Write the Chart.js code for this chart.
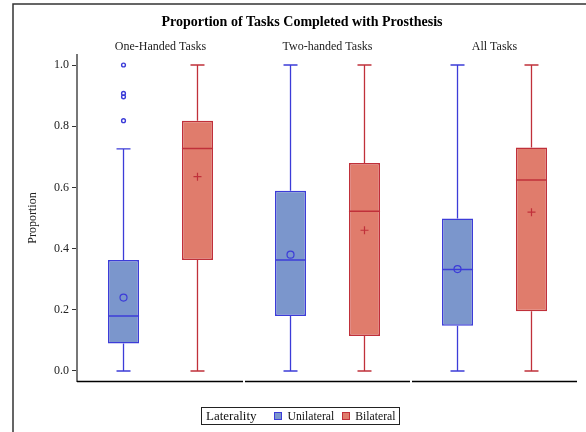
<!DOCTYPE html>
<html>
<head>
<meta charset="utf-8">
<script src="https://cdn.jsdelivr.net/npm/chart.js@4.4.1/dist/chart.umd.min.js"></script>
<style>
  html, body { margin: 0; padding: 0; background: #fff; overflow: hidden; }
  #wrap { position: relative; width: 586px; height: 432px; }
  #legend {
    position: absolute; left: 201px; top: 407px; width: 197px; height: 16px;
    border: 1px solid #222; font-family: "Liberation Serif", "Times New Roman", serif;
    color: #111; display: flex; align-items: center; box-sizing: content-box;
    white-space: nowrap;
  }
  #legend .title { font-size: 13px; margin-left: 4px; }
  #legend .sw { width: 6px; height: 6px; border: 1px solid; margin-left: 17px; }
  #legend .lbl { font-size: 11.7px; margin-left: 6px; }
</style>
</head>
<body>
<div id="wrap">
  <canvas id="boxChart" width="586" height="432"></canvas>
  <div id="legend">
    <span class="title">Laterality</span>
    <span class="sw" style="background:#7b96cc;border-color:#3c3cd8"></span>
    <span class="lbl">Unilateral</span>
    <span class="sw" style="background:#e07c6c;border-color:#c0303a;margin-left:8px"></span>
    <span class="lbl" style="margin-left:5px">Bilateral</span>
  </div>
</div>
<script>
// data
const panels = ["One-Handed Tasks", "Two-handed Tasks", "All Tasks"];

const uniMin = [0, 0, 0];
const uniQ1 = [0.09, 0.18, 0.148];
const uniMed = [0.18, 0.363, 0.332];
const uniQ3 = [0.363, 0.589, 0.498];
const uniMax = [0.726, 1.0, 1.0];
const uniMean = [0.24, 0.38, 0.333];
const uniOutliers = [[0.818, 0.896, 0.907, 1.0], [], []];

const biMin = [0, 0, 0];
const biQ1 = [0.363, 0.114, 0.195];
const biMed = [0.727, 0.522, 0.624];
const biQ3 = [0.818, 0.68, 0.73];
const biMax = [1.0, 1.0, 1.0];
const biMean = [0.635, 0.46, 0.519];
const biOutliers = [[], [], []];

const yTicks = [0.0, 0.2, 0.4, 0.6, 0.8, 1.0];

const serif = "'Liberation Serif', 'Times New Roman', serif";
Chart.defaults.font.family = serif;
Chart.defaults.color = "#222";

const uniColor = { fill: "#7b96cc", line: "#3c3cd8", mark: "crc" };
const biColor = { fill: "#e07c6c", line: "#c0303a", mark: "plus" };

const stats = [
    { min: uniMin, q1: uniQ1, med: uniMed, q3: uniQ3, max: uniMax, mean: uniMean, out: uniOutliers, c: uniColor },
    { min: biMin, q1: biQ1, med: biMed, q3: biQ3, max: biMax, mean: biMean, out: biOutliers, c: biColor }
];

// frame round the whole graph
const framePlugin = {
    id: "frame",
    beforeDraw(chart) {
        const ctx = chart.ctx;
        ctx.save();
        ctx.fillStyle = "#fff";
        ctx.fillRect(0, 0, chart.width, chart.height);
        ctx.strokeStyle = "#333";
        ctx.lineWidth = 1.5;
        ctx.strokeRect(13, 4, 700, 700);
        ctx.restore();
    }
};

// whiskers, medians, means and outliers on top of the bars
const boxPlugin = {
    id: "boxExtras",
    afterDatasetsDraw(chart) {
        const ctx = chart.ctx;
        const y = chart.scales.y;
        stats.forEach((s, d) => {
            const meta = chart.getDatasetMeta(d);
            meta.data.forEach((bar, i) => {
                const cx = bar.x;
                const w = bar.width;
                const yMax = y.getPixelForValue(s.max[i]);
                const yMin = y.getPixelForValue(s.min[i]);
                ctx.save();
                ctx.strokeStyle = s.c.line;
                ctx.lineWidth = 1.3;
                ctx.beginPath();
                // whiskers + caps
                ctx.moveTo(cx, y.getPixelForValue(s.q3[i]));
                ctx.lineTo(cx, yMax);
                ctx.moveTo(cx, y.getPixelForValue(s.q1[i]));
                ctx.lineTo(cx, yMin);
                ctx.moveTo(cx - 7, yMax);
                ctx.lineTo(cx + 7, yMax);
                ctx.moveTo(cx - 7, yMin);
                ctx.lineTo(cx + 7, yMin);
                ctx.stroke();
                // median
                ctx.lineWidth = 1.5;
                ctx.beginPath();
                ctx.moveTo(cx - w / 2, y.getPixelForValue(s.med[i]));
                ctx.lineTo(cx + w / 2, y.getPixelForValue(s.med[i]));
                ctx.stroke();
                // mean
                const my = y.getPixelForValue(s.mean[i]);
                ctx.lineWidth = 1.2;
                ctx.beginPath();
                if (s.c.mark === "crc") {
                    ctx.arc(cx, my, 3.5, 0, Math.PI * 2);
                } else {
                    ctx.moveTo(cx - 4, my);
                    ctx.lineTo(cx + 4, my);
                    ctx.moveTo(cx, my - 4);
                    ctx.lineTo(cx, my + 4);
                }
                ctx.stroke();
                // outliers
                ctx.lineWidth = 1.4;
                s.out[i].forEach((v) => {
                    ctx.beginPath();
                    ctx.arc(cx, y.getPixelForValue(v), 1.9, 0, Math.PI * 2);
                    ctx.stroke();
                });
                ctx.restore();
            });
        });
    },
    afterDraw(chart) {
        // x axis line, one piece per panel
        const ctx = chart.ctx;
        const x = chart.scales.x;
        const half = x.width / panels.length / 2;
        const yb = chart.chartArea.bottom + 0.5;
        ctx.save();
        ctx.strokeStyle = "#000";
        ctx.lineWidth = 1.5;
        panels.forEach((p, i) => {
            const c = x.getPixelForValue(i);
            ctx.beginPath();
            ctx.moveTo(c - half + (i === 0 ? 0 : 1), yb);
            ctx.lineTo(c + half - 1, yb);
            ctx.stroke();
        });
        ctx.restore();
    }
};

new Chart(document.getElementById("boxChart"), {
    type: "bar",
    data: {
        labels: panels,
        datasets: [
            {
                label: "Unilateral",
                data: uniQ1.map((v, i) => [v, uniQ3[i]]),
                backgroundColor: uniColor.fill,
                borderColor: uniColor.line,
                borderWidth: 1.5,
                borderSkipped: false,
                categoryPercentage: 0.886,
                barPercentage: 0.42
            },
            {
                label: "Bilateral",
                data: biQ1.map((v, i) => [v, biQ3[i]]),
                backgroundColor: biColor.fill,
                borderColor: biColor.line,
                borderWidth: 1.5,
                borderSkipped: false,
                categoryPercentage: 0.886,
                barPercentage: 0.42
            }
        ]
    },
    options: {
        responsive: false,
        animation: false,
        events: [],
        layout: { padding: { top: 0, right: 8, bottom: 51, left: 26 } },
        plugins: {
            legend: { display: false },
            tooltip: { enabled: false },
            title: {
                display: true,
                text: "Proportion of Tasks Completed with Prosthesis",
                color: "#000",
                font: { size: 14, weight: "bold", family: serif },
                padding: { top: 14, bottom: 0 }
            }
        },
        scales: {
            x: {
                type: "category",
                position: "top",
                grid: { display: false },
                border: { display: false },
                ticks: { font: { size: 12 }, color: "#222", padding: -7, maxRotation: 0 },
                afterFit: (scale) => { scale.height = 55 - 14 - 16.8; }
            },
            y: {
                min: -0.0327,
                max: 1.0327,
                afterBuildTicks: (scale) => { scale.ticks = yTicks.map((v) => ({ value: v })); },
                afterFit: (scale) => { scale.width = 51; },
                grid: { drawOnChartArea: false, drawTicks: true, tickLength: 5, color: "#333" },
                border: { display: true, color: "#777", width: 2 },
                ticks: {
                    font: { size: 12 },
                    color: "#222",
                    padding: 3,
                    callback: (v) => Number(v).toFixed(1)
                },
                title: {
                    display: true,
                    text: "Proportion",
                    font: { size: 12 },
                    color: "#222",
                    padding: { top: 0, bottom: 0 }
                }
            }
        }
    },
    plugins: [framePlugin, boxPlugin]
});
</script>
</body>
</html>
